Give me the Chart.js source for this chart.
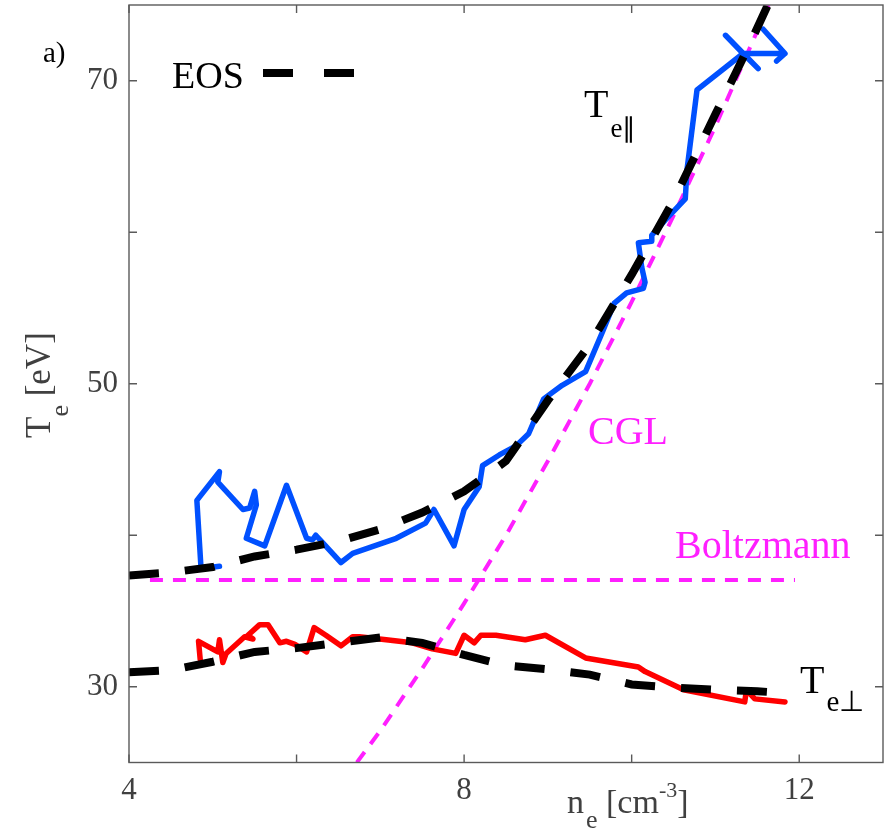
<!DOCTYPE html>
<html>
<head>
<meta charset="utf-8">
<script src="https://cdn.jsdelivr.net/npm/chart.js@4.4.1/dist/chart.umd.min.js"></script>
<style>
  html, body { margin: 0; padding: 0; background: #fff; }
  canvas { display: block; }
</style>
</head>
<body>
<canvas id="chart" width="884" height="829"></canvas>
<script>
// n_e [cm^-3] on x, T_e [eV] on y

// measured T_e parallel (blue)
const teParN = [5.08, 4.86, 4.81, 5.08, 5.06, 5.36, 5.44, 5.50, 5.52, 5.40, 5.62, 5.88, 6.12, 6.19, 6.23, 6.33, 6.53, 6.67, 7.19, 7.54, 7.64, 7.88, 8.00, 8.18, 8.22, 8.42, 8.62, 8.77, 8.95, 9.17, 9.45, 9.65, 9.79, 9.94, 10.14, 10.16, 10.12, 10.08, 10.24, 10.24, 10.40, 10.64, 10.66, 10.78, 11.33, 11.12, 11.51, 11.33, 11.83, 11.57, 11.83, 11.73];
const teParT = [37.95, 37.8, 42.3, 44.2, 43.5, 41.7, 41.8, 42.9, 42.0, 39.8, 39.3, 43.3, 39.8, 39.7, 40.0, 39.4, 38.2, 38.8, 39.8, 40.8, 41.7, 39.3, 41.7, 43.2, 44.6, 45.3, 45.9, 46.7, 49.0, 49.9, 50.8, 53.4, 55.3, 56.0, 56.3, 56.7, 57.7, 59.3, 59.4, 59.8, 60.8, 62.2, 64.1, 69.4, 71.8, 73.0, 70.8, 71.8, 71.8, 73.4, 71.8, 71.3];

// measured T_e perpendicular (red)
const tePerpN = [4.85, 4.83, 5.06, 5.08, 5.12, 5.16, 5.38, 5.48, 5.42, 5.56, 5.66, 5.80, 5.88, 5.98, 6.12, 6.21, 6.35, 6.53, 6.67, 6.75, 7.07, 7.38, 7.62, 7.90, 8.00, 8.12, 8.20, 8.38, 8.73, 8.97, 9.45, 10.08, 10.16, 10.62, 11.35, 11.37, 11.47, 11.83];
const tePerpT = [31.8, 33.0, 32.3, 33.1, 31.6, 32.2, 33.3, 33.15, 33.4, 34.1, 34.1, 32.9, 33.0, 32.8, 32.3, 33.9, 33.4, 32.7, 33.3, 33.3, 33.1, 32.9, 32.5, 32.2, 33.4, 32.9, 33.4, 33.4, 33.1, 33.4, 31.9, 31.3, 31.0, 29.8, 29.0, 29.8, 29.2, 29.0];

// EOS fits (black dashed)
const eosParN = [4.0, 4.5, 5.0, 5.5, 6.0, 6.5, 7.0, 7.5, 8.0, 8.5, 9.0, 9.5, 10.0, 10.5, 11.0, 11.4, 11.65];
const eosParT = [37.35, 37.55, 37.9, 38.6, 39.05, 39.6, 40.4, 41.5, 42.9, 44.9, 48.9, 52.6, 57.2, 62.1, 67.8, 72.3, 75.3];
const eosPerpN = [4.0, 4.5, 5.0, 5.5, 6.0, 6.5, 7.0, 7.5, 8.0, 8.5, 9.0, 9.5, 10.0, 10.5, 11.0, 11.5, 11.8];
const eosPerpT = [30.95, 31.1, 31.65, 32.3, 32.55, 32.9, 33.25, 32.9, 32.1, 31.4, 31.15, 30.8, 30.15, 29.95, 29.8, 29.7, 29.6];

// model curves (magenta dashed)
const cglN = [6.72, 7.0, 7.5, 8.0, 8.5, 9.0, 9.5, 10.0, 10.5, 11.0, 11.5, 11.65];
const cglT = [25.0, 27.1, 31.2, 35.5, 40.0, 44.9, 50.0, 55.4, 61.1, 67.0, 73.3, 75.2];
const boltzN = [4.25, 11.95];
const boltzT = [37.05, 37.05];

// axis ticks
const xTickVals = [4, 6, 8, 10, 12];
const xTickLabels = ['4', '', '8', '', '12'];
const yTickVals = [30, 40, 50, 60, 70];
const yTickLabels = ['30', '', '50', '', '70'];

const SERIF = '"Liberation Serif", "Times New Roman", serif';
const AXIS_GRAY = '#404040';
const MAGENTA = '#ff1fff';

const pts = (xs, ys) => xs.map((x, i) => ({ x: x, y: ys[i] }));

function dashed(data, color, width, dash) {
  return { data: data, borderColor: color, borderWidth: width, borderDash: dash,
           borderCapStyle: 'butt', pointRadius: 0, fill: false };
}
function solid(data, color) {
  return { data: data, borderColor: color, borderWidth: 5.5, borderJoinStyle: 'round',
           borderCapStyle: 'round', pointRadius: 0, fill: false };
}

// draw a run of text pieces: [text, size, baseline shift, extra gap]
function drawRuns(ctx, x, y, parts) {
  parts.forEach(p => {
    ctx.font = p[1] + 'px ' + SERIF;
    ctx.fillText(p[0], x, y + (p[2] || 0));
    x += ctx.measureText(p[0]).width + (p[3] || 0);
  });
}

const frame = {
  id: 'frame',
  afterDatasetsDraw(chart) {
    const ctx = chart.ctx;
    const a = chart.chartArea;
    const xs = chart.scales.x, ys = chart.scales.y;
    ctx.save();
    ctx.strokeStyle = '#5a5a5a';
    ctx.lineWidth = 1.4;
    ctx.strokeRect(a.left, a.top, a.right - a.left, a.bottom - a.top);
    ctx.beginPath();
    xTickVals.forEach(v => {
      const px = xs.getPixelForValue(v);
      ctx.moveTo(px, a.bottom); ctx.lineTo(px, a.bottom - 8);
      ctx.moveTo(px, a.top); ctx.lineTo(px, a.top + 8);
    });
    yTickVals.forEach(v => {
      const py = ys.getPixelForValue(v);
      ctx.moveTo(a.left, py); ctx.lineTo(a.left + 8, py);
      ctx.moveTo(a.right, py); ctx.lineTo(a.right - 8, py);
    });
    ctx.stroke();

    ctx.textAlign = 'left';
    ctx.textBaseline = 'alphabetic';

    // axis titles
    ctx.fillStyle = AXIS_GRAY;
    drawRuns(ctx, 567, 813, [['n', 34, 0, 2], ['e', 26, 15, 0], [' [cm', 34, 0], ['-3', 22, -16], [']', 34, 0]]);
    ctx.save();
    ctx.translate(50, 438);
    ctx.rotate(-Math.PI / 2);
    drawRuns(ctx, 0, 0, [['T', 35, 0], ['e', 26, 18], [' [eV]', 35, 0]]);
    ctx.restore();

    // annotations
    ctx.fillStyle = '#000';
    ctx.font = '29px ' + SERIF;
    ctx.fillText('a)', 43, 62);
    ctx.font = '38px ' + SERIF;
    ctx.fillText('EOS', 172, 88);
    drawRuns(ctx, 584, 117, [['T', 40, 0, 2], ['e\u2225', 27, 20]]);
    drawRuns(ctx, 800, 693, [['T', 40, 0, 2], ['e\u22A5', 29, 18]]);

    ctx.strokeStyle = '#000';
    ctx.lineWidth = 8;
    ctx.beginPath();
    ctx.moveTo(263, 73); ctx.lineTo(293, 73);
    ctx.moveTo(324, 73); ctx.lineTo(354, 73);
    ctx.stroke();

    ctx.fillStyle = MAGENTA;
    ctx.font = '40px ' + SERIF;
    ctx.fillText('CGL', 588, 444);
    ctx.fillText('Boltzmann', 675, 558);
    ctx.restore();
  }
};

const ctx = document.getElementById('chart').getContext('2d');
new Chart(ctx, {
  type: 'line',
  data: {
    datasets: [
      dashed(pts(eosParN, eosParT), '#000', 8, [30, 26]),
      dashed(pts(eosPerpN, eosPerpT), '#000', 8, [30, 26]),
      solid(pts(teParN, teParT), '#0050ff'),
      solid(pts(tePerpN, tePerpT), '#ff0000'),
      dashed(pts(cglN, cglT), MAGENTA, 4, [13, 10]),
      dashed(pts(boltzN, boltzT), MAGENTA, 4, [13, 10])
    ]
  },
  options: {
    responsive: false,
    devicePixelRatio: 1,
    animation: false,
    layout: { padding: { top: 5, right: 1, left: 0, bottom: 0 } },
    elements: { line: { tension: 0 } },
    plugins: { legend: { display: false }, tooltip: { enabled: false } },
    scales: {
      x: {
        type: 'linear', min: 4, max: 13,
        grid: { display: false, drawTicks: false },
        border: { display: false },
        afterBuildTicks: s => { s.ticks = xTickVals.map(v => ({ value: v })); },
        afterFit: s => { s.height = 66.5; s.paddingLeft = 0; s.paddingRight = 0; },
        ticks: {
          callback: (v, i) => xTickLabels[i],
          font: { family: SERIF, size: 31 }, color: AXIS_GRAY,
          padding: 10, maxRotation: 0, autoSkip: false
        }
      },
      y: {
        type: 'linear', min: 25, max: 75,
        grid: { display: false, drawTicks: false },
        border: { display: false },
        afterBuildTicks: s => { s.ticks = yTickVals.map(v => ({ value: v })); },
        afterFit: s => { s.width = 129; s.paddingTop = 0; s.paddingBottom = 0; },
        ticks: {
          callback: (v, i) => yTickLabels[i],
          font: { family: SERIF, size: 31 }, color: AXIS_GRAY,
          padding: 11, autoSkip: false
        }
      }
    }
  },
  plugins: [frame]
});
</script>
</body>
</html>
